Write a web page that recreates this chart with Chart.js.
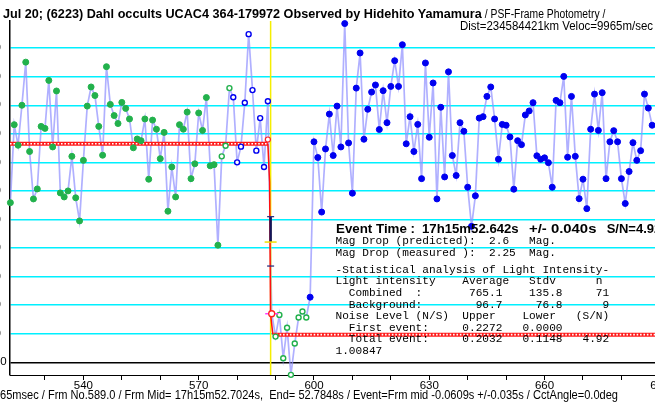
<!DOCTYPE html>
<html><head><meta charset="utf-8">
<script src="https://cdn.jsdelivr.net/npm/chart.js@4.4.1/dist/chart.umd.min.js"></script>
<style>
html,body{margin:0;padding:0;background:#fff;}
#wrap{position:relative;width:655px;height:410px;overflow:hidden;background:#fff;}
#c{position:absolute;left:-30px;top:0;}
.t{position:absolute;white-space:pre;color:#000;transform-origin:0 0;}
</style></head><body>
<div id="wrap"><canvas id="c" width="740" height="410"></canvas></div>
<script>
// ---- data (frame numbers are consecutive, starting at firstFrame) ----
const firstFrame = 521;
const greenFilled = [559,832,760,900,1051,738,572,607,826,819,987,754,950,593,579,600,721,576,495,707,
  897,964,934,826,725,1035,903,864,836,910,889,852,751,782,776,852,641,848,816,713,
  805,529,684,579,832,816,876,643,695,873,812,927,688,692,410];          // 521-575
const greenOpenPre = [721,758,960];                                        // 576-578
const blueOpen = [928,700,755,909,1149,953,741,855,684,914];               // 579-588
const eventPoint = [170];                                                  // 589
const background = [90,166,14,121,-44,66,157,178,157];                     // 590-598
const blueFilled = [228,772,717,526,747,869,724,897,754,1186,768,592,960,1083,781,886,946,971,815,951,
  839,966,1056,966,1112,765,860,738,833,643,1048,788,978,572,893,649,1017,724,654,839,
  809,613,476,583,855,860,931,964,852,711,833,830,789,606,776,762,866,880,909,723,
  711,716,699,613,917,909,1001,718,931,721,573,641,538,816,939,812,944,643,772,811,
  772,643,556,668,769,707,741,939,890,830];                                 // 599-688

// analysis levels and event marks
const levelUpper = 765.1, levelLower = 96.7;
const upperEndFrame = 588.0, lowerStartFrame = 589.3;
const stepFrames = [588.0, 588.45, 588.7, 589.3];
const stepValues = [765.1, 631, 170, 96.7];
const stepCornerMark = [{x: 588.0, y: 780}];
const eventFrame = 588.72;
const errorBarTop = 510, errorBarMid = 421, errorBarBottom = 337;

// axes
const xMin = 520.9, xMax = 700.45, yMin = -44.5, yMax = 1195;
const xTickStep = 10, xLabelEvery = 30, yTickStep = 100;

// ---- build series ----
function seq(start, arr){ return arr.map((v,i)=>({x:start+i, y:v})); }
let f = firstFrame;
const sGF = seq(f, greenFilled); f += greenFilled.length;
const sGO = seq(f, greenOpenPre); f += greenOpenPre.length;
const sBO = seq(f, blueOpen); f += blueOpen.length;
const sEV = seq(f, eventPoint); f += eventPoint.length;
const sBG = seq(f, background); f += background.length;
const sBF = seq(f, blueFilled);
const allPts = [...sGF,...sGO,...sBO,...sEV,...sBG,...sBF];

const GREEN = '#22b14c', BLUE = '#0000f0', LAV = 'rgba(145,145,255,0.72)';
const ptsCommon = {showLine:false, clip:false};
const datasets = [
  {data: sEV, ...ptsCommon, pointStyle:'circle', pointRadius:3, pointBorderWidth:1.3, pointBorderColor:'#ff2020', pointBackgroundColor:'#fff', order:0},
  {data: sEV, ...ptsCommon, pointStyle:'line', pointRadius:6.5, pointBorderWidth:1.5, pointBorderColor:'#ff40ff', order:1},
  {data: stepCornerMark, ...ptsCommon, pointStyle:'circle', pointRadius:2.5, pointBorderWidth:1.2, pointBorderColor:'#ff2020', pointBackgroundColor:'#fff', order:1},
  {data: sGF, ...ptsCommon, pointStyle:'circle', pointRadius:3, pointBorderWidth:1, pointBorderColor:GREEN, pointBackgroundColor:GREEN, order:2},
  {data: sBF, ...ptsCommon, pointStyle:'circle', pointRadius:3, pointBorderWidth:1, pointBorderColor:BLUE, pointBackgroundColor:BLUE, order:2},
  {data: sGO, ...ptsCommon, pointStyle:'circle', pointRadius:2.5, pointBorderWidth:1.4, pointBorderColor:GREEN, pointBackgroundColor:'#fff', order:2},
  {data: sBG, ...ptsCommon, pointStyle:'circle', pointRadius:2.5, pointBorderWidth:1.4, pointBorderColor:GREEN, pointBackgroundColor:'#fff', order:2},
  {data: sBO, ...ptsCommon, pointStyle:'circle', pointRadius:2.5, pointBorderWidth:1.4, pointBorderColor:BLUE, pointBackgroundColor:'#fff', order:2},
  // error bar
  {data: [{x:eventFrame,y:errorBarTop},{x:eventFrame,y:errorBarBottom}], ...ptsCommon, pointStyle:'line', pointRadius:3.5, pointBorderWidth:1.3, pointBorderColor:'#303080', order:4},
  {data: [{x:eventFrame,y:errorBarMid}], ...ptsCommon, pointStyle:'line', pointRadius:6, pointBorderWidth:1.5, pointBorderColor:'#f0e000', order:3},
  {data: [{x:eventFrame,y:errorBarTop},{x:eventFrame,y:errorBarMid}], showLine:true, pointRadius:0, borderColor:'#14145a', borderWidth:2.5, order:4},
  // red step
  {data: stepFrames.map((x,i)=>({x, y:stepValues[i]})), showLine:true, pointRadius:0, borderColor:'#ff1010', borderWidth:1.5, order:5},
  // dotted levels (red band with white dots)
  {data: [{x:xMin,y:levelUpper},{x:upperEndFrame,y:levelUpper}], showLine:true, pointRadius:0, borderColor:'#fff', borderWidth:1.6, borderDash:[1.6,1.8], order:6},
  {data: [{x:lowerStartFrame,y:levelLower},{x:xMax,y:levelLower}], showLine:true, pointRadius:0, borderColor:'#fff', borderWidth:1.6, borderDash:[1.6,1.8], order:6},
  {data: [{x:xMin,y:levelUpper},{x:upperEndFrame,y:levelUpper}], showLine:true, pointRadius:0, borderColor:'#ff1a1a', borderWidth:4, order:7},
  {data: [{x:lowerStartFrame,y:levelLower},{x:xMax,y:levelLower}], showLine:true, pointRadius:0, borderColor:'#ff1a1a', borderWidth:4, order:7},
  // event time line
  {data: [{x:eventFrame,y:yMin},{x:eventFrame,y:yMax}], showLine:true, pointRadius:0, borderColor:'#f5ee00', borderWidth:1.5, order:8},
  // light curve
  {data: allPts, showLine:true, pointRadius:0, borderColor:LAV, borderWidth:1.7, tension:0, borderJoinStyle:'miter', order:9},
];

new Chart(document.getElementById('c'), {
  type: 'scatter',
  data: {datasets},
  options: {
    responsive:false, animation:false, events:[],
    layout:{padding:{top:21, right:10, bottom:0, left:0}},
    plugins:{legend:{display:false}, tooltip:{enabled:false}, title:{display:false}},
    scales:{
      x:{type:'linear', min:xMin, max:xMax,
        afterFit:(s)=>{s.height = 35;},
        grid:{drawOnChartArea:false, drawTicks:true, tickLength:5, color:'#000', tickWidth:1},
        border:{display:true, color:'#000', width:1},
        ticks:{stepSize:xTickStep, includeBounds:false, autoSkip:false, maxRotation:0, padding:0,
          color:'#000', font:{family:"'Liberation Sans Narrow','Liberation Sans',sans-serif", size:11.5, lineHeight:1},
          callback:(v)=> (v % xLabelEvery === 0 ? String(v) : '')}
      },
      y:{type:'linear', min:yMin, max:yMax,
        afterFit:(s)=>{s.width = 40;},
        grid:{drawTicks:false, color:(c)=> c.tick && c.tick.value === 0 ? '#000' : '#00f0ff', lineWidth:1.5},
        border:{display:true, color:'#000', width:1.5},
        ticks:{stepSize:yTickStep, includeBounds:false, padding:3.3, color:'#000',
          font:{family:"'Liberation Sans Narrow','Liberation Sans',sans-serif", size:11.5},
          callback:(v)=> (v === 0 ? '0' : v + '\u2002')}
      }
    }
  }
});

// ---- text overlays ----
const wrap = document.getElementById('wrap');
function addText(txt, x, base, size, weight, family, fitW){
  const d = document.createElement('div');
  d.className = 't';
  d.textContent = txt;
  d.style.fontFamily = family;
  d.style.fontSize = size + 'px';
  d.style.fontWeight = weight;
  d.style.lineHeight = size + 'px';
  const asc = family.indexOf('Mono') >= 0 ? 0.7665 : 0.8465;
  d.style.left = x + 'px';
  d.style.top = (base - asc * size) + 'px';
  wrap.appendChild(d);
  if (fitW) {
    const w = d.getBoundingClientRect().width;
    if (w > 0) d.style.transform = 'scaleX(' + (fitW / w) + ')';
  }
  return d;
}
const SANS = "'Liberation Sans', Arial, sans-serif";
const MONO = "'Liberation Mono', monospace";
addText('Jul 20; (6223) Dahl occults UCAC4 364-179972 Observed by Hidehito Yamamura', 3, 18.3, 12, 'bold', SANS, 478.7);
addText(' / PSF-Frame Photometry /', 481.7, 18.3, 12, 'normal', SANS, 123.3);
addText('Dist=234584421km Veloc=9965m/sec', 460, 30.3, 12, 'normal', SANS, 193);
addText('65msec / Frm No.589.0 / Frm Mid= 17h15m52.7024s,  End= 52.7848s / Event=Frm mid -0.0609s +/-0.035s / CctAngle=0.0deg', 0, 399.5, 12, 'normal', SANS, 618);

addText('Event Time :', 336, 233.3, 13, 'bold', SANS, 79);
addText('17h15m52.642s', 421.7, 233.3, 13, 'bold', SANS, 96.7);
addText('+/- 0.040s', 529.3, 233.3, 13, 'bold', SANS, 67.4);
addText('S/N=4.92', 606.7, 233.3, 13, 'bold', SANS, 0);

const monoLines = [
  ['Mag Drop (predicted):  2.6   Mag.', 245],
  ['Mag Drop (measured ):  2.25  Mag.', 256.3],
  ['-Statistical analysis of Light Intensity-', 273.3],
  ['Light intensity    Average   Stdv      n', 285],
  ['  Combined  :       765.1    135.8     71', 296.7],
  ['  Background:        96.7     76.8      9', 308.3],
  ['Noise Level (N/S)  Upper    Lower   (S/N)', 320],
  ['  First event:     0.2272   0.0000', 331.3],
  ['  Total event:     0.2032   0.1148   4.92', 342.7],
  ['1.00847', 354.3],
];
monoLines.forEach(([t, b]) => addText(t, 335.5, b, 11.13, 'normal', MONO, 0));
</script></body></html>
